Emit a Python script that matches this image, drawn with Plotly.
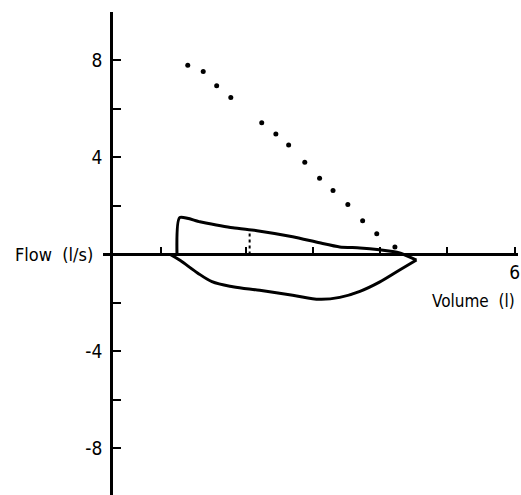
import plotly.graph_objects as go

# Predicted (dotted) curve
pred_vol = [1.14, 1.37, 1.57, 1.78, 2.24, 2.45, 2.64, 2.88, 3.10, 3.30, 3.52, 3.74, 3.95, 4.22]
pred_flow = [7.80, 7.55, 6.96, 6.47, 5.43, 4.97, 4.51, 3.80, 3.14, 2.64, 2.06, 1.39, 0.85, 0.31]

# Expiratory (upper) limb of the loop
exp_vol = [0.98, 1.02, 1.32, 1.81, 2.17, 2.70, 3.10, 3.40, 3.70, 3.99, 4.29, 4.54]
exp_flow = [0.0, 1.52, 1.35, 1.10, 0.98, 0.73, 0.48, 0.31, 0.27, 0.19, 0.06, -0.23]

# Inspiratory (lower) limb of the loop
insp_vol = [0.88, 1.03, 1.28, 1.50, 1.81, 2.21, 2.70, 3.10, 3.40, 3.70, 3.99, 4.29, 4.54]
insp_flow = [0.0, -0.25, -0.75, -1.12, -1.33, -1.48, -1.68, -1.85, -1.77, -1.52, -1.14, -0.64, -0.23]

# Dotted vertical marker
mark_vol = [2.06, 2.06]
mark_flow = [0.0, 0.98]

x_tickvals = [0.74, 2, 3, 4, 5, 6]
x_ticktext = ["", "", "", "", "", "6"]
y_tickvals = [-8, -6, -4, -2, 2, 4, 6, 8, 10]
y_ticktext = ["-8", "", "-4", "", "", "4", "", "8", ""]

X_RANGE = [-0.12, 6.05]
Y_RANGE = [-9.92, 10]

FONT = "DejaVu Sans Condensed, DejaVu Sans, sans-serif"

fig = go.Figure()
fig.add_trace(go.Scatter(x=pred_vol, y=pred_flow, mode="markers",
                         marker=dict(color="black", size=5), showlegend=False))
fig.add_trace(go.Scatter(x=exp_vol, y=exp_flow, mode="lines",
                         line=dict(color="black", width=3, shape="spline", smoothing=0.6),
                         showlegend=False))
fig.add_trace(go.Scatter(x=insp_vol, y=insp_flow, mode="lines",
                         line=dict(color="black", width=3, shape="spline", smoothing=1.0),
                         showlegend=False))
fig.add_trace(go.Scatter(x=mark_vol, y=mark_flow, mode="lines",
                         line=dict(color="black", width=2, dash="dot"), showlegend=False))

fig.update_layout(
    width=521, height=495,
    margin=dict(l=103, r=3, t=12, b=0, autoexpand=False),
    plot_bgcolor="white", paper_bgcolor="white",
    font=dict(family=FONT, size=19, color="black"),
    xaxis=dict(range=X_RANGE, anchor="free", automargin=False,
               position=(0 - Y_RANGE[0]) / (Y_RANGE[1] - Y_RANGE[0]),
               showline=True, linecolor="black", linewidth=3,
               showgrid=False, zeroline=False,
               ticks="inside", ticklen=6, tickwidth=2, tickcolor="black",
               tickvals=x_tickvals, ticktext=x_ticktext,
               tickfont=dict(family=FONT, size=19, color="black")),
    yaxis=dict(range=Y_RANGE, anchor="free", automargin=False,
               position=(0 - X_RANGE[0]) / (X_RANGE[1] - X_RANGE[0]),
               showline=True, linecolor="black", linewidth=3,
               showgrid=False, zeroline=False,
               ticks="inside", ticklen=8, tickwidth=2, tickcolor="black",
               ticklabelstandoff=4,
               tickvals=y_tickvals, ticktext=y_ticktext,
               tickfont=dict(family=FONT, size=19, color="black")),
    annotations=[
        dict(text="Flow  (l/s)", xref="paper", yref="y", x=-0.02, y=0,
             xanchor="right", yanchor="middle", showarrow=False,
             font=dict(family=FONT, size=18, color="black")),
        dict(text="Volume  (l)", xref="x", yref="y", x=6.03, y=-1.9,
             xanchor="right", yanchor="middle", showarrow=False,
             font=dict(family=FONT, size=17, color="black")),
    ],
)

fig.write_html(
    "out.html",
    config={"displayModeBar": False},
    post_script="document.body.style.margin='0';document.body.style.overflow='hidden';",
)
